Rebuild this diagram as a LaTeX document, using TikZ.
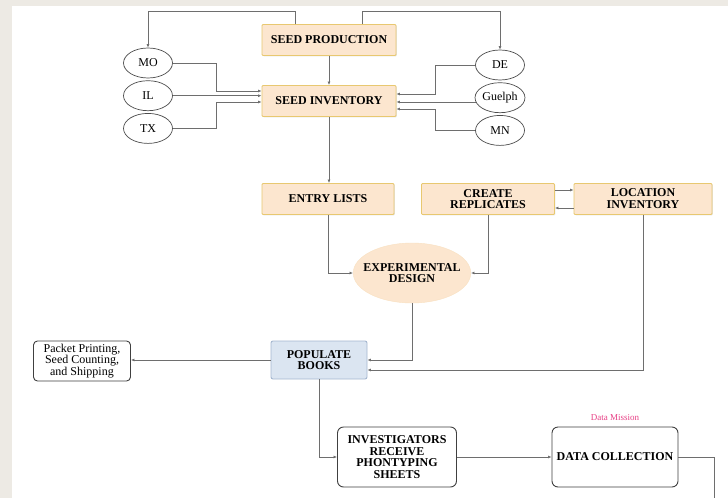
\documentclass[tikz,border=0pt]{standalone}
\usepackage{fontspec}
\setmainfont{Liberation Serif}
\usetikzlibrary{arrows.meta,positioning,shapes.geometric,shadows}

\definecolor{bgstrip}{RGB}{237,234,228}
\definecolor{peach}{RGB}{252,230,207}
\definecolor{goldline}{RGB}{232,200,112}
\definecolor{bluefill}{RGB}{219,229,241}
\definecolor{blueline}{RGB}{165,183,207}
\definecolor{wiregray}{RGB}{110,110,110}
\definecolor{pinktxt}{RGB}{232,64,134}

\begin{document}
\begin{tikzpicture}[x=1pt, y=-1pt, >={Latex[length=3.5pt,width=3pt]},
  font=\fontsize{12}{11.8}\selectfont, node distance=2pt,
  stage/.style={draw=goldline, fill=peach, line width=0.9pt, rounded corners=1pt, align=center, font=\fontsize{12}{11.8}\selectfont\bfseries, inner sep=0pt, minimum height=31pt, drop shadow={shadow xshift=0.8pt, shadow yshift=-0.8pt, opacity=0.2}},
  site/.style={draw=black!70, line width=0.7pt, ellipse, inner sep=0pt, minimum width=49pt, minimum height=30pt},
  sheet/.style={draw=black!75, line width=0.9pt, rounded corners=6pt, align=center, inner sep=0pt, minimum height=60pt, font=\fontsize{12}{11.8}\selectfont\bfseries},
  wire/.style={draw=wiregray, line width=0.7pt}]
\fill[bgstrip] (0,0) rectangle (728,498);
\fill[white] (12,6) rectangle (728,498);
\useasboundingbox (0,0) rectangle (728,498);

\node[stage, minimum width=134pt] (prod) at (329,40) {SEED PRODUCTION};
\node[stage, minimum width=134pt] (inv) at (329,101) {SEED INVENTORY};
\node[site] (mo) at (148,63) {MO};
\node[site, below=of mo] (il) {IL};
\node[site, below=of il] (tx) {TX};
\node[site] (de) at (500,65) {DE};
\node[site, below=of de] (guelph) {Guelph};
\node[site, below=of guelph] (mn) {MN};
\node[stage, minimum width=132pt] (entry) at (328,199) {ENTRY LISTS};
\node[stage, minimum width=133pt] (repl) at (488,199) {CREATE\\REPLICATES};
\node[stage, minimum width=138pt] (locinv) at (643,199) {LOCATION\\INVENTORY};
\node[ellipse, fill=peach, draw=peach!85!goldline, align=center, font=\fontsize{12}{11.8}\selectfont\bfseries, inner xsep=-7pt, inner ysep=0pt, minimum height=60pt] (design) at (412,273) {EXPERIMENTAL\\DESIGN};
\node[draw=blueline, fill=bluefill, line width=0.9pt, rounded corners=2pt, align=center, font=\fontsize{12}{11.8}\selectfont\bfseries, inner sep=0pt, minimum width=96pt, minimum height=38pt] (populate) at (319,360) {POPULATE\\BOOKS};
\node[draw=black!75, line width=0.9pt, rounded corners=4pt, align=center, inner sep=0pt, minimum width=97pt, minimum height=40pt] (packet) at (82,361) {Packet Printing,\\Seed Counting,\\and Shipping};
\node[sheet, minimum width=119pt] (invest) at (397,457) {INVESTIGATORS\\RECEIVE\\PHONTYPING\\SHEETS};
\node[sheet, minimum width=126pt] (datacol) at (615,457) {DATA COLLECTION};
\node[text=pinktxt, font=\fontsize{9}{10}\selectfont, inner sep=1pt, above=5pt of datacol] (mission) {Data Mission};
\coordinate (exit) at (714,498);

\draw[wire,->] ([xshift=-34pt]prod.north) -- ++(0,-13) -| (mo.north);
\draw[wire,->] ([xshift=33pt]prod.north) -- ++(0,-13) -| (de.north);
\draw[wire,->] (mo.east) -- ++(43,0) |- ([yshift=10pt]inv.west);
\draw[wire,->] (il.east) -- (il.east -| inv.west);
\draw[wire,->] (tx.east) -- ++(43,0) |- ([yshift=-1pt]inv.west);
\draw[wire,->] (de.west) -- ++(-40,0) |- ([yshift=7pt]inv.east);
\draw[wire,->] (guelph.190) -- (guelph.190 -| inv.east);
\draw[wire,->] (mn.west) -- ++(-40,0) |- ([yshift=-8pt]inv.east);
\draw[wire,->] (inv.south) -- (inv.south |- entry.north);
\draw[wire,->] ([yshift=9pt]repl.east) -- ([yshift=9pt]locinv.west);
\draw[wire,->] ([yshift=-9pt]locinv.west) -- ([yshift=-9pt]repl.east);
\draw[wire,->] (entry.south) |- (design.west);
\draw[wire,->] (repl.south) |- (design.east);
\draw[wire,->] (design.south) |- (populate.east);
\draw[wire,->] (locinv.south) |- ([yshift=-10pt]populate.east);
\draw[wire,->] (populate.west) -- (populate.west -| packet.east);
\draw[wire,->] (populate.south) |- (invest.west);
\foreach \u/\v in {prod/inv,invest/datacol} \draw[wire,->] (\u) -- (\v);
\draw[wire] (datacol.east) -| (exit);
\end{tikzpicture}
\end{document}
